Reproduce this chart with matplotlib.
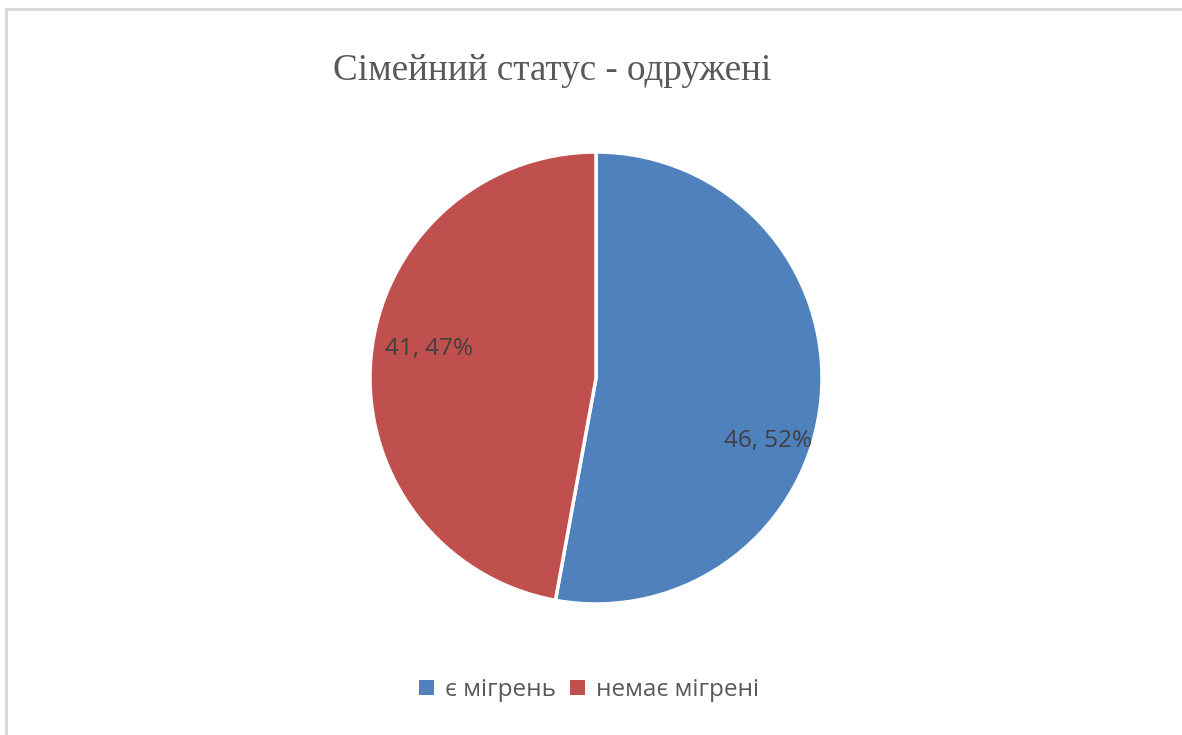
import matplotlib
matplotlib.use("Agg")
import matplotlib.pyplot as plt
from matplotlib.patches import Rectangle

# Data
categories = ["є мігрень", "немає мігрені"]
counts = [46, 41]
percent_labels = ["52%", "47%"]
colors = ["#4F81BD", "#C0504D"]
title = "Сімейний статус - одружені"

W, H = 1182, 735
fig = plt.figure(figsize=(W / 100, H / 100), dpi=100)
fig.patch.set_facecolor("white")

# light grey frame around the chart area
fig.patches.append(Rectangle((6 / W, -0.05), 1.2, (H - 9) / H + 0.05,
                             transform=fig.transFigure, fill=False,
                             edgecolor="#D9D9D9", linewidth=2.2))

# pie axes: centre (596, 378) px, radius 226 px
cx, cy, r = 596, 378, 226
ax = fig.add_axes([(cx - r) / W, (H - cy - r) / H, 2 * r / W, 2 * r / H])
wedges, _ = ax.pie(counts, colors=colors, startangle=90, counterclock=False,
                   wedgeprops=dict(edgecolor="white", linewidth=2.5))
ax.set_xlim(-1, 1)
ax.set_ylim(-1, 1)
ax.set_aspect("equal")
ax.axis("off")

label_font = dict(family=["Open Sans", "DejaVu Sans"], fontsize=17.5, color="#404040")
label_pos = [(0.76, -0.28), (-0.74, 0.13)]
for (x, y), n, p in zip(label_pos, counts, percent_labels):
    ax.text(x, y, f"{n}, {p}", ha="center", va="center", **label_font)

fig.text(552 / W, 1 - 71 / H, title, ha="center", va="center",
         family="Liberation Serif", fontsize=26.7, color="#595959")

leg = fig.legend(wedges, categories, loc="center", bbox_to_anchor=(589 / W, 1 - 690 / H),
                 ncol=2, frameon=False, handlelength=0.6, handleheight=0.6,
                 handletextpad=0.45, columnspacing=0.6,
                 prop=dict(family="Open Sans", size=17.5))
for t in leg.get_texts():
    t.set_color("#595959")
for h in leg.legend_handles:
    h.set_edgecolor("none")

fig.savefig("out.png", dpi=100)
